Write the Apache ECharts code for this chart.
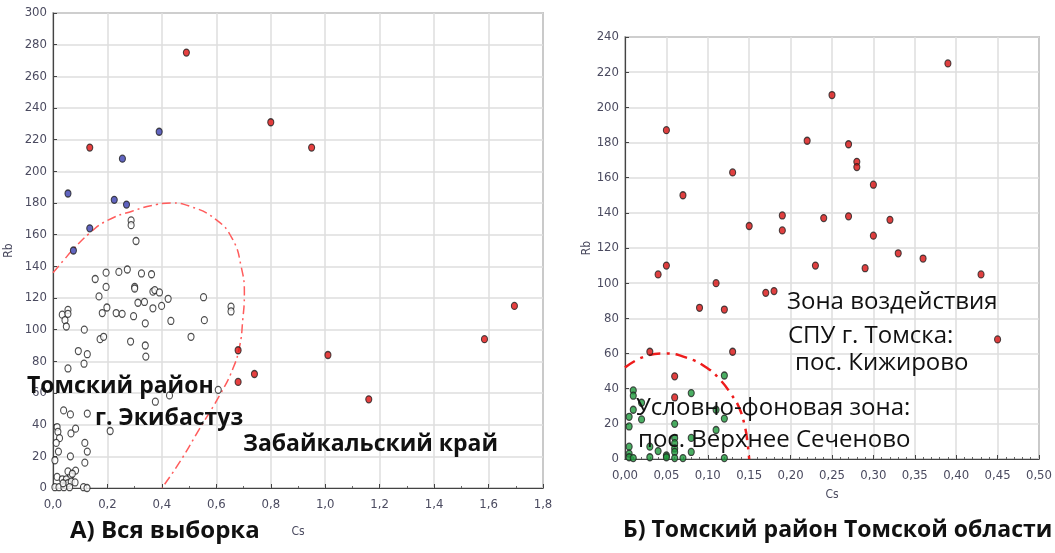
<!DOCTYPE html>
<html>
<head>
<meta charset="utf-8">
<script src="https://cdn.jsdelivr.net/npm/echarts@6/dist/echarts.min.js"></script>
<style>
  html, body { margin: 0; padding: 0; background: #fff; }
  #chart { width: 1055px; height: 553px; }
</style>
</head>
<body>
<div id="chart"></div>
<script>
// А) вся выборка: [Cs, Rb]
var zabRed = [
  [0.135, 215], [0.49, 275], [0.80, 231], [0.95, 215], [0.68, 87], [0.68, 67],
  [0.74, 72], [1.01, 84], [1.16, 56], [1.585, 94], [1.695, 115]
];
var tomskBlue = [
  [0.055, 186], [0.075, 150], [0.135, 164], [0.225, 182], [0.255, 208],
  [0.27, 179], [0.39, 225]
];
var ekibOpen = [
  [0.287, 169], [0.287, 166], [0.305, 156],
  [0.155, 132], [0.195, 136], [0.195, 127], [0.169, 121], [0.198, 114], [0.181, 110.5],
  [0.242, 136.5], [0.273, 138], [0.325, 135.5], [0.362, 135], [0.30, 127], [0.30, 126],
  [0.367, 124], [0.374, 125], [0.391, 123.5], [0.423, 119.5], [0.312, 117], [0.336, 117.5],
  [0.367, 113.5], [0.399, 115], [0.232, 110.5], [0.254, 110], [0.296, 108.5], [0.339, 104],
  [0.433, 105.5], [0.553, 120.5], [0.556, 106], [0.654, 114.5], [0.654, 111.5], [0.507, 95.5],
  [0.285, 92.5], [0.339, 90], [0.341, 83], [0.173, 94], [0.186, 95.5], [0.115, 100],
  [0.034, 109.5], [0.044, 106], [0.049, 102], [0.055, 112.5], [0.055, 110], [0.093, 86.5],
  [0.126, 84.5], [0.114, 78.5], [0.055, 75.5], [0.607, 62], [0.428, 58.5], [0.376, 54.5],
  [0.039, 49], [0.064, 46.5], [0.126, 47], [0.21, 36], [0.015, 38.5], [0.083, 37.5],
  [0.066, 34.5], [0.018, 35.5], [0.024, 31.5], [0.012, 28.5], [0.020, 23], [0.007, 17.5],
  [0.064, 20], [0.117, 28.5], [0.126, 23], [0.117, 16], [0.015, 7], [0.034, 5.5],
  [0.064, 7.5], [0.083, 11], [0.055, 10.5], [0.071, 9], [0.049, 5.5], [0.055, 3],
  [0.067, 4], [0.081, 3.5], [0.007, 0.5], [0.022, 0.5], [0.040, 0.5], [0.061, 0.5],
  [0.112, 0.5], [0.125, 0], [0.037, 3]
];
// эллипс (точки)
var ellipseA = [
  [0, 136], [0.04, 144], [0.073, 150.5], [0.135, 161], [0.2, 169], [0.293, 175],
  [0.38, 179], [0.433, 180], [0.502, 178], [0.599, 169.5], [0.66, 157], [0.691, 140],
  [0.703, 123], [0.697, 106], [0.685, 89], [0.66, 75], [0.617, 60], [0.537, 37],
  [0.464, 16], [0.40, 0]
];

// Б) Томский район
var kizhRed = [
  [0.05, 187], [0.07, 150], [0.13, 163], [0.15, 132.5], [0.19, 138.5], [0.19, 130],
  [0.22, 181], [0.23, 110], [0.04, 105], [0.05, 110], [0.11, 100], [0.09, 86],
  [0.12, 85], [0.17, 94.5], [0.18, 95.5], [0.13, 61], [0.03, 61], [0.06, 47],
  [0.06, 35], [0.39, 225], [0.25, 207], [0.27, 179], [0.28, 169], [0.28, 166],
  [0.30, 156], [0.24, 137], [0.27, 138], [0.32, 136], [0.30, 127], [0.33, 117],
  [0.36, 114], [0.29, 108.5], [0.43, 105], [0.45, 68]
];
var verkhGreen = [
  [0.12, 47.5], [0.01, 39], [0.01, 36], [0.08, 37.5], [0.02, 32], [0.01, 28],
  [0.11, 28], [0.005, 24], [0.02, 22.5], [0.12, 23], [0.06, 20], [0.005, 18.5],
  [0.11, 16.5], [0.08, 12], [0.06, 12], [0.06, 9], [0.06, 6], [0.06, 4],
  [0.005, 7], [0.03, 7], [0.04, 4.5], [0.08, 4], [0.005, 3], [0.05, 2],
  [0.005, 1], [0.01, 0.5], [0.03, 1], [0.06, 0.5], [0.07, 0.5], [0.12, 0.5], [0.05, 1]
];
var ellipseB = [
  [0, 52], [0.025, 58.5], [0.047, 60], [0.075, 57.5], [0.10, 51.5], [0.115, 45],
  [0.128, 37], [0.138, 29], [0.145, 18], [0.148, 9], [0.15, 0]
];

var chart = echarts.init(document.getElementById('chart'));

var tickFont = 'Liberation Sans Narrow, DejaVu Sans Condensed, Arial, sans-serif';
var tickColor = '#4b4b60';

function comma(d) {
  return function (v) { return v.toFixed(d).replace('.', ','); };
}

function xAx(idx, max, step, dec, minorN, gap) {
  return {
    gridIndex: idx, type: 'value', min: 0, max: max, interval: step,
    name: 'Cs', nameLocation: 'middle', nameGap: gap,
    nameTextStyle: { color: tickColor, fontFamily: tickFont, fontSize: 12 },
    axisLine: { lineStyle: { color: '#444', width: 1.2 } },
    axisTick: { inside: true, length: 4, lineStyle: { color: '#444' } },
    minorTick: { show: true, splitNumber: minorN, length: 2, lineStyle: { color: '#666' } },
    axisLabel: { color: tickColor, fontFamily: tickFont, fontSize: 13, margin: 10, formatter: comma(dec) },
    splitLine: { show: true, lineStyle: { color: '#dedede', width: 1.5 } }
  };
}
function yAx(idx, max, gap) {
  return {
    gridIndex: idx, type: 'value', min: 0, max: max, interval: 20,
    name: 'Rb', nameLocation: 'middle', nameGap: gap,
    nameTextStyle: { color: tickColor, fontFamily: tickFont, fontSize: 12 },
    axisLine: { lineStyle: { color: '#444', width: 1.2 } },
    axisTick: { inside: true, length: 4, lineStyle: { color: '#444' } },
    axisLabel: { color: tickColor, fontFamily: tickFont, fontSize: 13, margin: 6 },
    splitLine: { show: true, lineStyle: { color: '#dedede', width: 1.5 } }
  };
}

function pts(name, data, xi, fill, size) {
  return {
    name: name, type: 'scatter', xAxisIndex: xi, yAxisIndex: xi, data: data,
    symbol: 'circle', symbolSize: size || [6, 7], z: 3,
    itemStyle: { color: fill, borderColor: '#222', borderWidth: 1.2 }
  };
}
function curve(data, xi, color, width, dash) {
  return {
    type: 'line', xAxisIndex: xi, yAxisIndex: xi, data: data, smooth: true,
    showSymbol: false, symbol: 'none', silent: true, z: 2, clip: true,
    lineStyle: { color: color, width: width, type: dash }
  };
}

var bigFont = 'Open Sans, Noto Sans, DejaVu Sans, sans-serif';
function label(text, x, y, size, weight) {
  return {
    type: 'text', x: x, y: y, z: 100,
    style: { text: text, fill: '#111', font: (weight || 'normal') + ' ' + size + 'px ' + bigFont }
  };
}

var option = {
  backgroundColor: '#fff',
  animation: false,
  grid: [
    { left: 53, top: 13, width: 490, height: 475, show: true, borderColor: '#444', borderWidth: 1.2 },
    { left: 625, top: 37, width: 420, height: 422, show: true, borderColor: '#444', borderWidth: 1.2 }
  ],
  xAxis: [xAx(0, 1.8, 0.2, 1, 2, 38), xAx(1, 0.5, 0.05, 2, 5, 30)],
  yAxis: [yAx(0, 300, 38), yAx(1, 240, 30)],
  series: [
    curve(ellipseA, 0, '#ff5c5c', 1.5, [9, 4, 2, 4]),
    pts('г. Экибастуз', ekibOpen, 0, '#ffffff'),
    pts('Томский район', tomskBlue, 0, '#3a3fb0'),
    pts('Забайкальский край', zabRed, 0, '#e01010'),
    curve(ellipseB, 1, '#ee1c1c', 2.5, [12, 6, 3, 6]),
    pts('Кижирово', kizhRed, 1, '#d81010'),
    pts('Верхнее Сеченово', verkhGreen, 1, '#1e9a3c')
  ],
  graphic: [
    label('Томский район', 27, 375, 23, 'bold'),
    label('г. Экибастуз', 95, 407, 23, 'bold'),
    label('Забайкальский край', 243, 433, 23, 'bold'),
    label('А) Вся выборка', 70, 519, 24, 'bold'),
    label('Зона воздействия', 787, 290, 24),
    label('СПУ г. Томска:', 788, 324, 24),
    label('пос. Кижирово', 795, 351, 24),
    label('Условно-фоновая зона:', 636, 396, 24),
    label('пос. Верхнее Сеченово', 638, 428, 24),
    label('Б) Томский район Томской области', 623, 519, 23, 'bold')
  ]
};
chart.setOption(option);
</script>
</body>
</html>
